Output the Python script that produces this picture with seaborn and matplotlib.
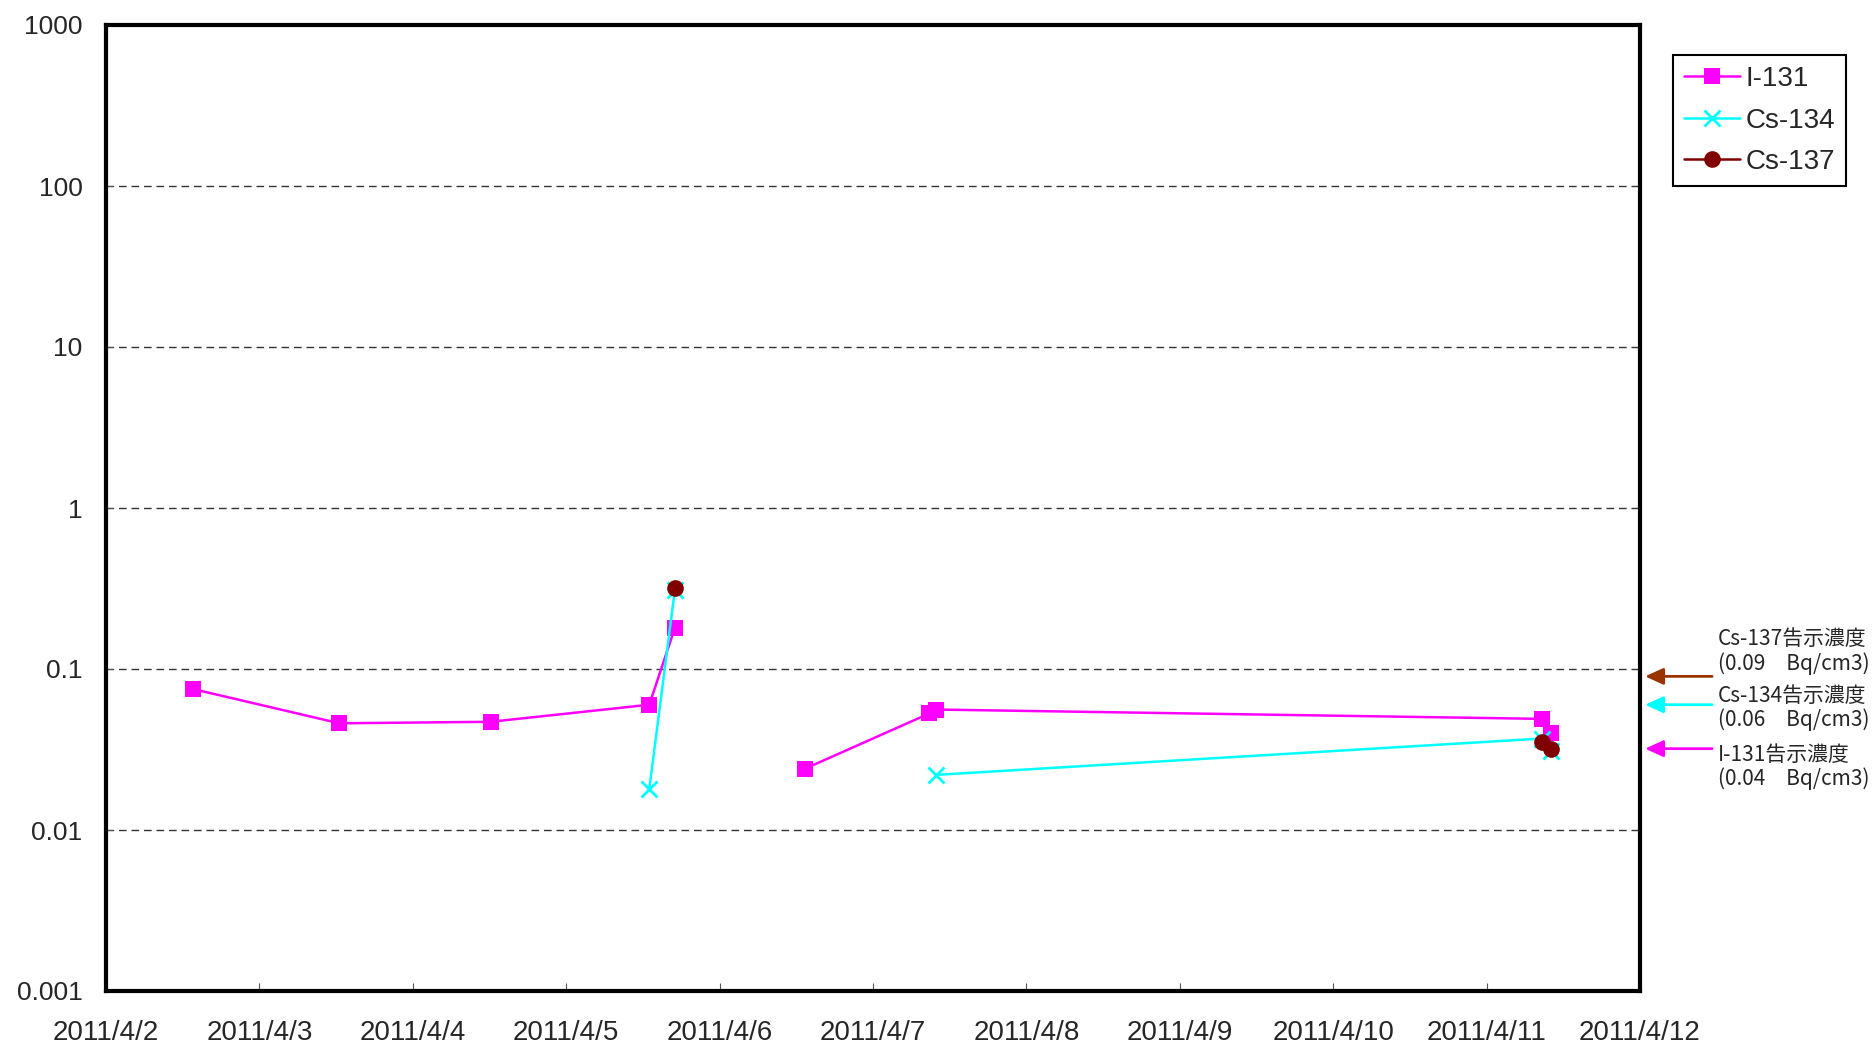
import matplotlib
matplotlib.use('Agg')
import matplotlib.pyplot as plt
from matplotlib.lines import Line2D
from matplotlib.ticker import NullLocator
import pandas as pd
import seaborn as sns

# 測定値 (Bq/cm3) - 測定時刻, 値, 線の区切り
i131_time = ['2011-04-02 13:40', '2011-04-03 12:30', '2011-04-04 12:10',
             '2011-04-05 13:00', '2011-04-05 17:00', '2011-04-06 13:20',
             '2011-04-07 08:50', '2011-04-07 09:55', '2011-04-11 08:40',
             '2011-04-11 10:00']
i131_value = [0.075, 0.046, 0.047, 0.060, 0.18, 0.024, 0.053, 0.056, 0.049, 0.040]
i131_seg = [0, 0, 0, 0, 0, 1, 1, 1, 1, 1]

cs134_time = ['2011-04-05 13:00', '2011-04-05 17:00', '2011-04-07 09:55',
              '2011-04-11 08:40', '2011-04-11 10:00']
cs134_value = [0.018, 0.31, 0.022, 0.037, 0.031]
cs134_seg = [0, 0, 1, 1, 1]

cs137_time = ['2011-04-05 17:00', '2011-04-11 08:40', '2011-04-11 10:00']
cs137_value = [0.32, 0.035, 0.032]
cs137_seg = [0, 1, 1]

nuclides = ['I-131', 'Cs-134', 'Cs-137']
colors = {'I-131': '#FF00FF', 'Cs-134': '#00FFFF', 'Cs-137': '#800000'}
markers = {'I-131': 's', 'Cs-134': 'x', 'Cs-137': 'o'}

x_tick_dates = ['2011-04-02', '2011-04-03', '2011-04-04', '2011-04-05', '2011-04-06',
                '2011-04-07', '2011-04-08', '2011-04-09', '2011-04-10', '2011-04-11',
                '2011-04-12']
x_tick_labels = ['2011/4/2', '2011/4/3', '2011/4/4', '2011/4/5', '2011/4/6',
                 '2011/4/7', '2011/4/8', '2011/4/9', '2011/4/10', '2011/4/11',
                 '2011/4/12']
y_ticks = [0.001, 0.01, 0.1, 1, 10, 100, 1000]
y_tick_labels = ['0.001', '0.01', '0.1', '1', '10', '100', '1000']

# 告示濃度
notice_names = ['Cs-137', 'Cs-134', 'I-131']
notice_labels = ['0.09', '0.06', '0.04']
arrow_levels = [0.09, 0.06, 0.032]
notice_colors = ['#993300', '#00FFFF', '#FF00FF']
text_offsets = [18, -2.5, -13]

sns.set_style('white')
plt.rcParams['font.family'] = ['Liberation Sans', 'Noto Sans CJK JP', 'DejaVu Sans']

frames = []
for name, t, v, s in [('I-131', i131_time, i131_value, i131_seg),
                      ('Cs-134', cs134_time, cs134_value, cs134_seg),
                      ('Cs-137', cs137_time, cs137_value, cs137_seg)]:
    frames.append(pd.DataFrame({'time': pd.to_datetime(t), 'value': v,
                                'seg': s, 'nuclide': name}))
df = pd.concat(frames, ignore_index=True)

fig = plt.figure(figsize=(18.74, 10.47), dpi=100)
ax = fig.add_axes([106 / 1874, 56 / 1047, 1534 / 1874, 966 / 1047])

for name in nuclides:
    sub = df[df['nuclide'] == name]
    mew = 2 if markers[name] == 'x' else 0
    sns.lineplot(data=sub, x='time', y='value', units='seg', estimator=None,
                 color=colors[name], marker=markers[name], markersize=12,
                 markeredgecolor=colors[name], markeredgewidth=mew,
                 linewidth=1.8, ax=ax, legend=False)

ax.set_yscale('log')
ax.set_ylim(0.001, 1000)
ax.set_yticks(y_ticks)
ax.set_yticklabels(y_tick_labels)
ax.yaxis.set_minor_locator(NullLocator())
ax.set_xlim(pd.Timestamp(x_tick_dates[0]), pd.Timestamp(x_tick_dates[-1]))
ax.set_xticks(pd.to_datetime(x_tick_dates))
ax.set_xticklabels(x_tick_labels)
ax.set_xlabel('')
ax.set_ylabel('')

ax.grid(axis='y', which='major', color='#333333', linestyle=(0, (5.5, 3.5)), linewidth=1)
ax.grid(axis='x', visible=False)
for sp in ax.spines.values():
    sp.set_color('black')
    sp.set_linewidth(3)
ax.tick_params(axis='x', bottom=True, direction='in', length=6, width=0.8,
               color='#555555', pad=21, labelsize=20)
ax.tick_params(axis='y', left=True, direction='in', length=5, width=0.8,
               color='#555555', pad=17, labelsize=19)

handles = [Line2D([], [], color=colors[n], marker=markers[n], markersize=12,
                  markeredgecolor=colors[n], markeredgewidth=2 if markers[n] == 'x' else 0,
                  linewidth=1.8) for n in nuclides]
leg = ax.legend(handles, nuclides, loc='upper left',
                bbox_to_anchor=(1673 / 1874, 1 - 55 / 1047), bbox_transform=fig.transFigure,
                fontsize=20, frameon=True, fancybox=False, edgecolor='black',
                facecolor='white', framealpha=1, borderpad=0.4, labelspacing=0.56,
                handlelength=2.0, handletextpad=0.2, borderaxespad=0)
leg.get_frame().set_linewidth(1.5)

for name, lab, ay, c, off in zip(notice_names, notice_labels, arrow_levels,
                                 notice_colors, text_offsets):
    ax.annotate('', xy=(1.0033, ay), xycoords=('axes fraction', 'data'),
                xytext=(1.047, ay), textcoords=('axes fraction', 'data'),
                annotation_clip=False,
                arrowprops=dict(arrowstyle='-|>,head_length=0.55,head_width=0.25',
                                color=c, lw=2, mutation_scale=20,
                                shrinkA=0, shrinkB=0))
    ax.annotate(f'{name}告示濃度\n({lab}　Bq/cm3)', xy=(1.0508, ay),
                xycoords=('axes fraction', 'data'), xytext=(0, off),
                textcoords='offset points', ha='left', va='center',
                fontsize=15, linespacing=1.1, family=['Noto Sans CJK JP'],
                annotation_clip=False)

fig.savefig('out.png', dpi=100)
